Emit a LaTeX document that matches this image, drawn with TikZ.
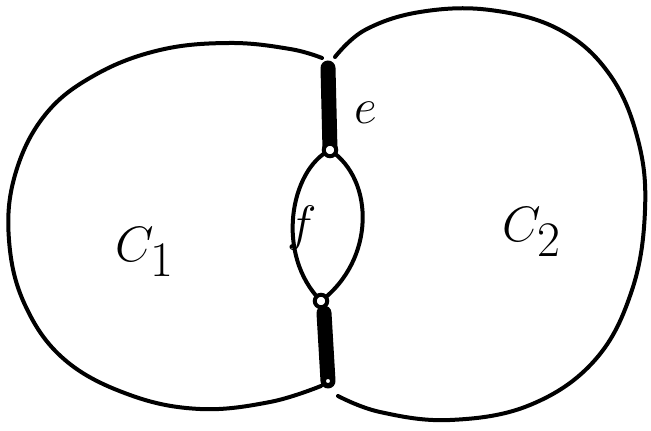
\documentclass[tikz,border=0pt]{standalone}
\usepackage{amsmath}
\usepackage{tikz}
\usetikzlibrary{calc,positioning}
\tikzset{
  vert/.style={
    circle,
    draw,
    line width=2pt,
    inner sep=2.2pt,
    fill=white
  },
  rand/.style={
    line width=2pt,
    line cap=round,
    line join=round
  },
  brug/.style={
    line width=7.5pt,
    line cap=round
  },
  lbl/.style={
    font=\fontsize{30}{32}\selectfont
  }
}

\begin{document}
\begin{tikzpicture}[x=0.5pt,y=-0.5pt]
\useasboundingbox (0,0) rectangle (651,431);
\coordinate (v1) at (328,68);
\coordinate (v2) at (330,150);
\coordinate (v3) at (321,301);
\coordinate (v4) at (328,381);
% linker en rechter gebied
\draw[rand] plot[smooth,tension=0.65] coordinates {(322,58) (290,49) (230,43) (160,50) (95,75) (45,115) (15,175) (9,240) (25,305) (65,360) (130,395) (200,409) (270,402) (321,386)};
\draw[rand] plot[smooth,tension=0.65] coordinates {(335,57) (365,30) (420,12) (490,10) (560,30) (610,75) (638,140) (645,210) (632,290) (595,360) (530,405) (450,420) (380,412) (338,396)};
% de twee dikke kanten
\draw[brug] (v1) -- (v2);
\draw[brug] ($(v3)+(3,12)$) -- (v4);
% lens tussen v2 en v3
\draw[rand] (v2) .. controls (290,170) and (275,255) .. (v3);
\draw[rand] (v2) .. controls (375,180) and (375,260) .. (v3);
\node[vert] (n2) at (v2) {};
\node[vert] (n3) at (v3) {};
\node[vert, inner sep=1.5pt] (n4) at (v4) {};
\node[lbl] (e) at (366,113) {$e$};
\node[lbl] (f) at (302,228) {$f$};
\node[lbl, font=\fontsize{40}{44}\selectfont] (c1) at (145,252) {$C_1$};
\node[lbl, font=\fontsize{40}{44}\selectfont] (c2) at (532,232) {$C_2$};
\end{tikzpicture}
\end{document}
